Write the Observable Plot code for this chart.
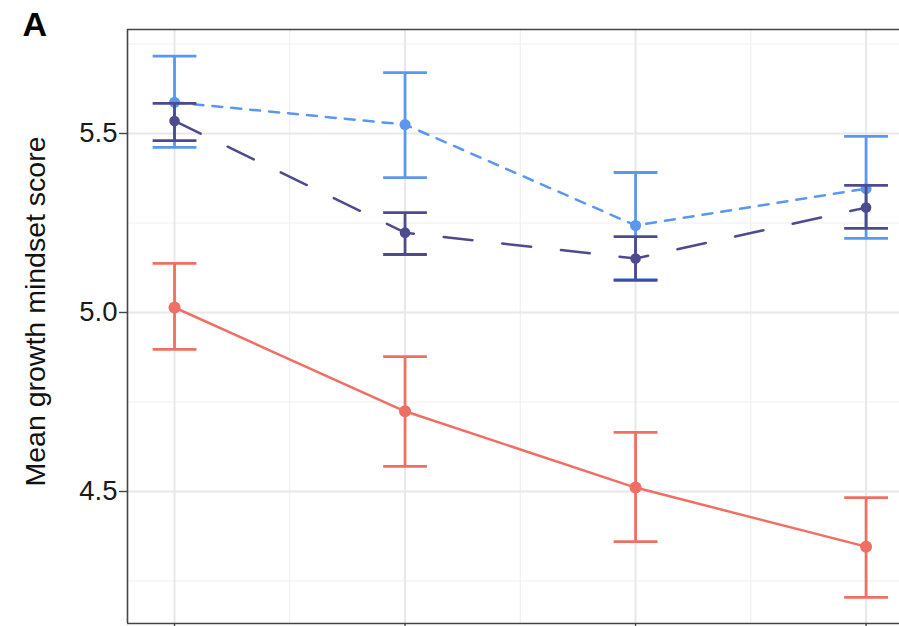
<!DOCTYPE html>
<html>
<head>
<meta charset="utf-8">
<script src="https://cdn.jsdelivr.net/npm/d3@7"></script>
<script src="https://cdn.jsdelivr.net/npm/@observablehq/plot@0.6"></script>
<style>
  html, body { margin: 0; padding: 0; background: #fff; }
  #chart { position: relative; width: 899px; height: 626px; overflow: hidden; }
</style>
</head>
<body>
<div id="chart"></div>
<script>
// ---- Data ----
const timePoints = ["Time 1", "Time 2", "Time 3", "Time 4"];
const seriesNames = ["Group 1", "Group 2", "Group 3"];

const group1Mean = [5.587, 5.525, 5.243, 5.346];
const group1Low  = [5.461, 5.377, 5.092, 5.207];
const group1High = [5.716, 5.670, 5.391, 5.492];

const group2Mean = [5.535, 5.223, 5.151, 5.293];
const group2Low  = [5.480, 5.162, 5.090, 5.235];
const group2High = [5.584, 5.279, 5.212, 5.355];

const group3Mean = [5.014, 4.724, 4.511, 4.346];
const group3Low  = [4.897, 4.570, 4.360, 4.204];
const group3High = [5.137, 4.877, 4.665, 4.483];

const yMajorTicks = [4.5, 5.0, 5.5];
const yMinorTicks = [4.25, 4.75, 5.25, 5.75];
const xMinorTicks = [1.5, 2.5, 3.5];

const yLabel = "Mean growth mindset score";
const panelTag = "A";

// ---- Styles ----
const colors = {"Group 1": "#5c97ee", "Group 2": "#4d4b8e", "Group 3": "#ef6f64"};
const dashes = {"Group 1": "10,9", "Group 2": "29,30", "Group 3": null};

function build(name, mean, lo, hi) {
  return timePoints.map((t, i) => ({series: name, time: t, x: i + 1, mean: mean[i], lo: lo[i], hi: hi[i]}));
}
const data = {
  "Group 1": build(seriesNames[0], group1Mean, group1Low, group1High),
  "Group 2": build(seriesNames[1], group2Mean, group2Low, group2High),
  "Group 3": build(seriesNames[2], group3Mean, group3Low, group3High)
};

const xDomain = [0.796, 4.145];
const yDomain = [4.1313, 5.7905];
const capHalf = 0.095;
const font = "'Liberation Sans', Arial, Helvetica, sans-serif";

function seriesMarks(name, r) {
  const d = data[name], c = colors[name];
  return [
    Plot.ruleX(d, {x: "x", y1: "lo", y2: "hi", stroke: c, strokeWidth: 2.8}),
    Plot.link(d, {x1: v => v.x - capHalf, x2: v => v.x + capHalf, y1: "hi", y2: "hi", stroke: c, strokeWidth: 2.8}),
    Plot.link(d, {x1: v => v.x - capHalf, x2: v => v.x + capHalf, y1: "lo", y2: "lo", stroke: c, strokeWidth: 2.8}),
    Plot.line(d, {x: "x", y: "mean", stroke: c, strokeWidth: 2.5, strokeDasharray: dashes[name]}),
    Plot.dot(d, {x: "x", y: "mean", r: r, fill: c, stroke: "none"})
  ];
}

const plot = Plot.plot({
  width: 899,
  height: 626,
  marginLeft: 127,
  marginTop: 29,
  marginRight: 0,
  marginBottom: 3,
  style: {fontFamily: font, background: "#fff", overflow: "visible"},
  x: {type: "linear", domain: xDomain, axis: null},
  y: {type: "linear", domain: yDomain, axis: null},
  marks: [
    // grid
    Plot.ruleY(yMinorTicks, {stroke: "#f0f0f0", strokeWidth: 1.2}),
    Plot.ruleX(xMinorTicks, {stroke: "#f0f0f0", strokeWidth: 1.2}),
    Plot.ruleY(yMajorTicks, {stroke: "#e8e8e8", strokeWidth: 2}),
    Plot.ruleX([1, 2, 3, 4], {stroke: "#e8e8e8", strokeWidth: 2}),
    // series
    ...seriesMarks("Group 3", 6),
    ...seriesMarks("Group 1", 5.5),
    ...seriesMarks("Group 2", 5.3),
    // panel border
    Plot.ruleX([xDomain[0]], {stroke: "#444", strokeWidth: 1.6}),
    Plot.ruleY([yDomain[0], yDomain[1]], {stroke: "#444", strokeWidth: 1.6}),
    // axes
    Plot.axisY(yMajorTicks, {anchor: "left", tickSize: 8, tickPadding: 2, tickFormat: d3.format(".1f"),
      fontSize: 27.5, stroke: "#444", strokeWidth: 1.4, fill: "#1a1a1a", label: null}),
    Plot.axisX([1, 2, 3, 4], {anchor: "bottom", tickSize: 5, tickFormat: () => "", stroke: "#444", strokeWidth: 1.4, label: null}),
    // y label
    Plot.text([yLabel], {frameAnchor: "left", rotate: -90, dx: -92, dy: -15, fontSize: 28.5,
      fill: "#111", textAnchor: "middle", lineAnchor: "middle"}),
    // panel tag
    Plot.text([panelTag], {frameAnchor: "top-left", dx: -105, dy: 6, fontSize: 34, fontWeight: "bold",
      fill: "#000", textAnchor: "start", lineAnchor: "bottom"})
  ]
});
document.getElementById("chart").appendChild(plot);
</script>
</body>
</html>
